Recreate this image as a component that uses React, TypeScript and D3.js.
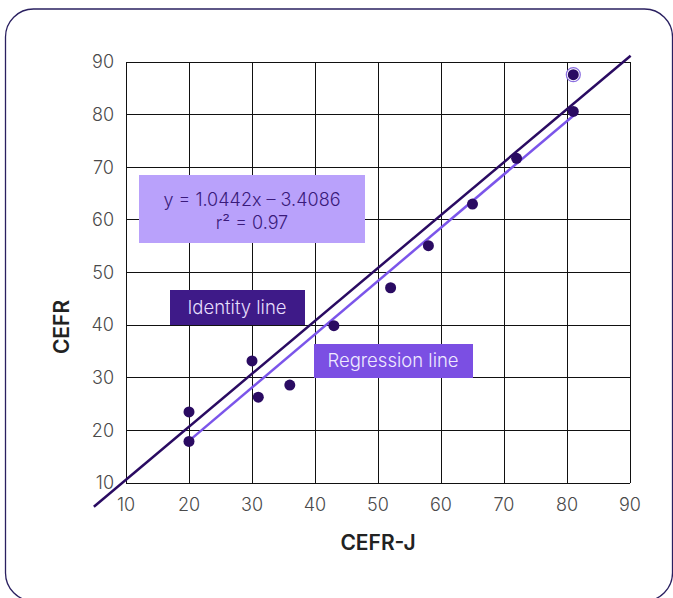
import * as d3 from "d3";

// CEFR-J vs CEFR scores
const cefrJ = [20, 20, 30, 31, 36, 43, 52, 58, 65, 72, 81, 81];
const cefr = [23.5, 17.9, 33.2, 26.3, 28.6, 39.9, 47.1, 55.1, 63, 71.7, 80.6, 87.6];
const ringedIndex = 11;

const ticks = [10, 20, 30, 40, 50, 60, 70, 80, 90];

const identityX = [4.9, 90.1];
const identityY = [5.5, 91.2];
const regressionX = [20, 81];
const regressionY = [18, 79.8];

const equationLines = ["y = 1.0442x – 3.4086", "r² = 0.97"];

const W = 673;
const H = 598;
const margin = { top: 62, right: 43, bottom: 115, left: 126 };

const font = "Inter, Lato, sans-serif";

export default function App() {
  const x = d3.scaleLinear().domain([10, 90]).range([margin.left, W - margin.right]);
  const y = d3.scaleLinear().domain([10, 90]).range([H - margin.bottom, margin.top]);

  const line = d3
    .line<[number, number]>()
    .x((d) => x(d[0]))
    .y((d) => y(d[1]));

  const identity = d3.zip(identityX, identityY) as [number, number][];
  const regression = d3.zip(regressionX, regressionY) as [number, number][];
  const points = d3.zip(cefrJ, cefr) as [number, number][];

  const [x0, x1] = x.range();
  const [y0, y1] = y.range();

  return (
    <svg width={W} height={H} style={{ position: "absolute", left: 0, top: 0, background: "#fff" }}>
      <rect x={5.5} y={9} width={667} height={592} rx={28} fill="#fff" stroke="#2a2060" strokeWidth={1.3} />

      {/* grid */}
      <g stroke="#111" strokeWidth={1} shapeRendering="crispEdges">
        {ticks.map((t) => (
          <line key={"v" + t} x1={x(t)} x2={x(t)} y1={y1} y2={y0} />
        ))}
        {ticks.map((t) => (
          <line key={"h" + t} x1={x0} x2={x1} y1={y(t)} y2={y(t)} />
        ))}
      </g>

      {/* tick labels */}
      <g fontFamily={font} fontSize={18} fontWeight={300} fill="#4a4a4a">
        {ticks.map((t) => (
          <text key={"yl" + t} x={x0 - 12} y={y(t)} dy="0.35em" textAnchor="end">
            {t}
          </text>
        ))}
        {ticks.map((t) => (
          <text key={"xl" + t} x={x(t)} y={y0 + 22} dy="0.35em" textAnchor="middle">
            {t}
          </text>
        ))}
      </g>

      {/* axis titles */}
      <text x={(x0 + x1) / 2} y={543} dy="0.35em" textAnchor="middle" fontFamily={font} fontWeight={600} fontSize={21} fill="#222">
        CEFR-J
      </text>
      <text
        transform={`translate(62,327) rotate(-90)`}
        dy="0.35em"
        textAnchor="middle"
        fontFamily={font}
        fontWeight={600}
        fontSize={21}
        fill="#222"
      >
        CEFR
      </text>

      {/* equation box */}
      <rect x={139} y={175} width={226} height={68} fill="#b9a1fb" />
      <g fontFamily={font} fontSize={18} fontWeight={300} fill="#3a1a7a" textAnchor="middle">
        <text x={252} y={206}>{equationLines[0]}</text>
        <text x={252} y={229}>{equationLines[1]}</text>
      </g>

      {/* line labels */}
      <rect x={170} y={290} width={135} height={35} fill="#3e1a88" />
      <text x={237} y={313.5} textAnchor="middle" fontFamily={font} fontSize={18.5} fontWeight={300} fill="#e6defc">
        Identity line
      </text>
      <rect x={314} y={344} width={159} height={34} fill="#7b4fe3" />
      <text x={393} y={367} textAnchor="middle" fontFamily={font} fontSize={18.5} fontWeight={300} fill="#efeaff">
        Regression line
      </text>

      {/* lines */}
      <path d={line(regression) || ""} fill="none" stroke="#7b55ea" strokeWidth={2.5} />
      <path d={line(identity) || ""} fill="none" stroke="#2a0b62" strokeWidth={2.5} />

      {/* points */}
      {points.map((p, i) => (
        <g key={i}>
          {i === ringedIndex && (
            <circle cx={x(p[0])} cy={y(p[1])} r={7} fill="#fff" stroke="#8a6ee0" strokeWidth={1.2} />
          )}
          <circle cx={x(p[0])} cy={y(p[1])} r={5.5} fill="#2a0b62" />
        </g>
      ))}
    </svg>
  );
}
